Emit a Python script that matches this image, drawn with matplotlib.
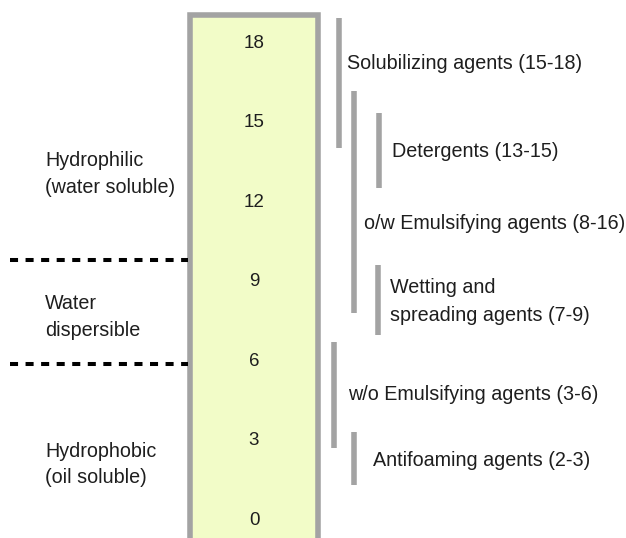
"""
HLB scale chart: surfactant classes against the HLB value.
"""
import matplotlib
matplotlib.use("Agg")
import matplotlib.pyplot as plt
from matplotlib.patches import Rectangle
from matplotlib.transforms import offset_copy

plt.rcParams['font.family'] = ['Liberation Sans', 'DejaVu Sans']
plt.rcParams['lines.scale_dashes'] = False

# HLB scale numbers shown inside the column
scale_ticks = [18, 15, 12, 9, 6, 3, 0]

# surfactant classes: label, drawn extent of the bar (HLB units), label height
agent_labels = [
    "Solubilizing agents (15-18)",
    "o/w Emulsifying agents (8-16)",
    "Detergents (13-15)",
    "Wetting and\nspreading agents (7-9)",
    "w/o Emulsifying agents (3-6)",
    "Antifoaming agents (2-3)",
]
agent_lo = [13.98, 7.73, 12.46, 6.89, 2.65, 1.25]
agent_hi = [18.86, 16.10, 15.30, 9.55, 6.63, 3.26]
agent_text_y = [17.2, 11.17, 13.9, 8.25, 4.72, 2.25]

# solubility regions on the left
region_labels = ["Hydrophilic\n(water soluble)", "Water\ndispersible", "Hydrophobic\n(oil soluble)"]
region_y = [13.05, 7.65, 2.08]
region_bounds = [9.73, 5.8]

# layout in pixel-ish x units, HLB on y
bar_x = [339, 354, 379, 378, 334, 354]
text_x = [347, 364, 392, 390, 348, 373]
PX = 26.5          # pixels per HLB unit
Y0 = 518           # pixel row of HLB 0

fig = plt.figure(figsize=(6.26, 5.38), dpi=100)
ax = fig.add_axes([0, 0, 1, 1])
ax.set_xlim(0, 626)
ax.set_ylim(-(538 - Y0) / PX, Y0 / PX)
ax.axis("off")

border = "#a3a3a3"
txt = "#1e1e1e"
num_tr = offset_copy(ax.transData, fig=fig, y=-1.6, units="points")
lab_tr = offset_copy(ax.transData, fig=fig, y=-1.2, units="points")

# the HLB column
col_top = (Y0 - 15) / PX
ax.add_patch(Rectangle((189.5, -5), 128, col_top + 5, facecolor="#f2fcc8",
                       edgecolor=border, linewidth=4, zorder=1))
for v in scale_ticks:
    ax.text(254, v, str(v), ha="center", va="center", fontsize=13.5, color=txt,
            zorder=3, transform=num_tr)

# range bars and their labels
for lab, lo, hi, ty, bx, tx in zip(agent_labels, agent_lo, agent_hi, agent_text_y, bar_x, text_x):
    ax.plot([bx, bx], [lo, hi], color=border, linewidth=4, solid_capstyle="butt")
    ax.text(tx, ty, lab, ha="left", va="center", fontsize=14.2, color=txt,
            linespacing=1.6, transform=lab_tr)

# region boundaries and names
for b in region_bounds:
    ax.plot([10, 188], [b, b], color="black", linewidth=2.9, dashes=(5.8, 5.4))
for lab, ry in zip(region_labels, region_y):
    ax.text(45, ry, lab, ha="left", va="center", fontsize=14.2, color=txt,
            linespacing=1.5, transform=lab_tr)

fig.savefig("out.png", dpi=100)
